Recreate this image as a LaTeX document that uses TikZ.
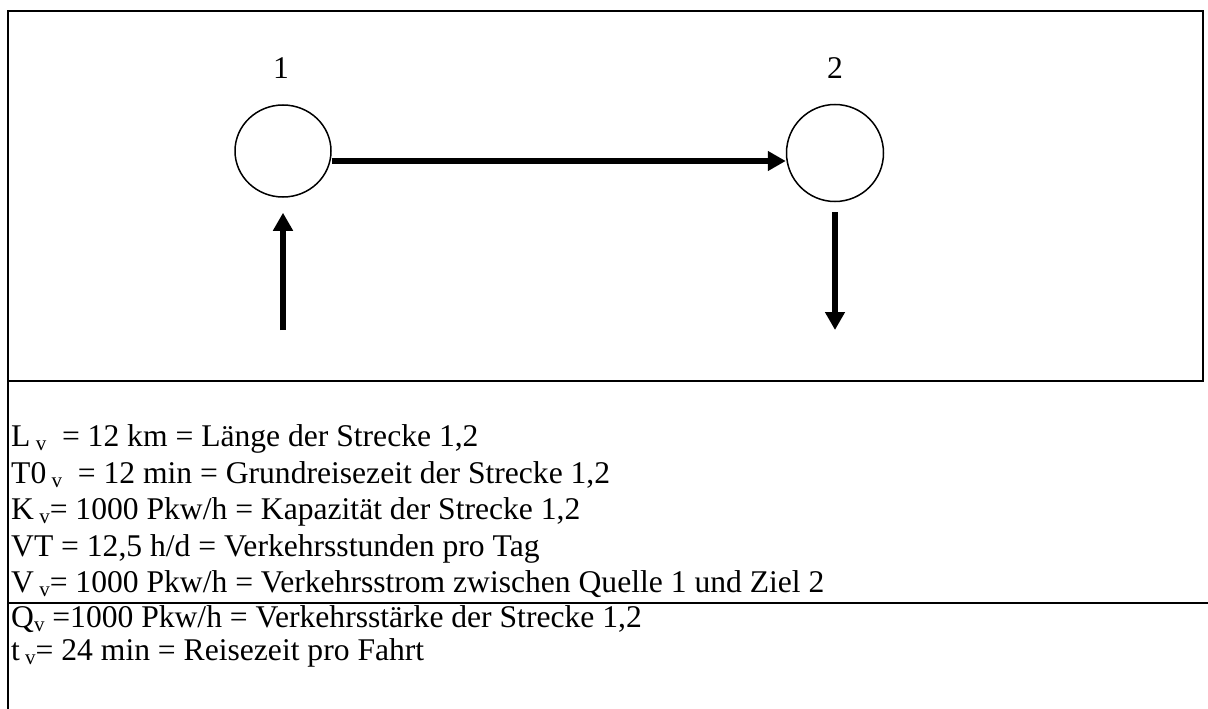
\documentclass[tikz,border=0pt]{standalone}
\usepackage{fontspec}
\setmainfont{Liberation Serif}
\usetikzlibrary{arrows.meta,shapes.geometric}
\newcommand\subv[1]{\raisebox{-0.14em}{\fontsize{21}{21}\selectfont #1}}
\tikzset{
  txt/.style={anchor=base west, inner sep=0pt, font=\fontsize{31.6}{38}\selectfont},
  numlab/.style={anchor=base, inner sep=0pt, font=\fontsize{31.6}{38}\selectfont},
  knot/.style={draw, ellipse, line width=1.5pt, inner sep=0pt},
  arr/.style={line width=5.6pt, -{Triangle[length=18pt,width=19pt]}},
  frame/.style={line width=2.5pt}
}
\begin{document}
\begin{tikzpicture}[x=1pt,y=-1pt]
\useasboundingbox (0,0) rectangle (1208,709);
\fill[white] (0,0) rectangle (1208,709);
% frames
\draw[frame] (8,11) rectangle (1203,381);
\draw[frame] (8,381) -- (8,709);
\draw[frame] (8,603) -- (1208,603);
% nodes
\node[knot, minimum width=96pt, minimum height=92pt] (n1) at (283,151) {};
\node[knot, minimum width=97pt, minimum height=97pt] (n2) at (835,153) {};
\node[numlab] (lab1) at (281,79) {1};
\node[numlab] (lab2) at (835,79) {2};
\coordinate (in1) at (283,330);
\coordinate (out2) at (835,330);
% connectors
\draw[arr] ([yshift=-10pt]n1.east) -- ([yshift=-8pt]n2.west);
\draw[arr] (in1) -- ([yshift=-15pt]n1.south);
\draw[arr] ([yshift=-10pt]n2.south) -- (out2);
% text
\node[txt] (t1) at (11,446) {L\subv{ v}\ \ = 12 km = Länge der Strecke 1,2};
\node[txt] (t2) at (11,483) {T0\subv{ v}\ \ = 12 min = Grundreisezeit der Strecke 1,2};
\node[txt] (t3) at (11,519) {K\subv{ v}= 1000 Pkw/h = Kapazität der Strecke 1,2};
\node[txt] (t4) at (11,556) {VT = 12,5 h/d = Verkehrsstunden pro Tag};
\node[txt] (t5) at (11,592) {V\subv{ v}= 1000 Pkw/h = Verkehrsstrom zwischen Quelle 1 und Ziel 2};
\node[txt] (t6) at (11,627) {Q\subv{v} =1000 Pkw/h = Verkehrsstärke der Strecke 1,2};
\node[txt] (t7) at (11,660) {t\subv{ v}= 24 min = Reisezeit pro Fahrt};
\end{tikzpicture}
\end{document}
